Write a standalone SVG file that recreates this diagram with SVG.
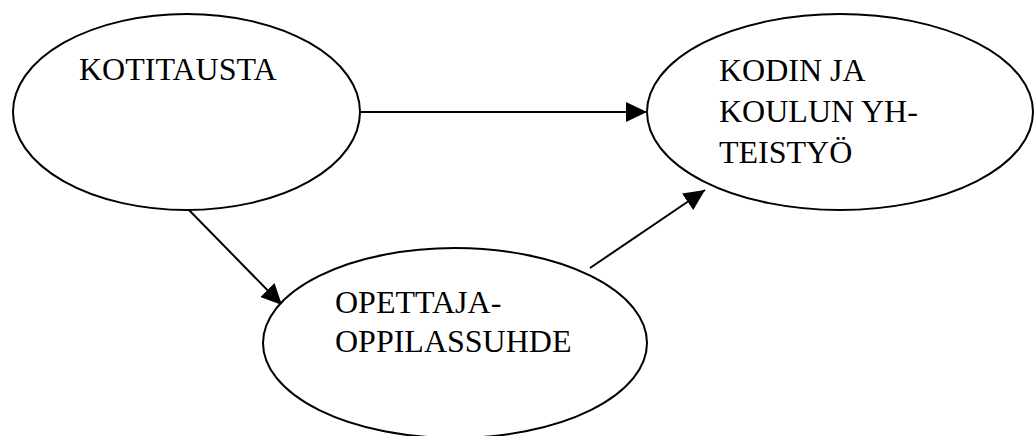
<svg xmlns="http://www.w3.org/2000/svg" width="1035" height="436" viewBox="0 0 1035 436">
<style>
.node{fill:#fff;stroke:#000;stroke-width:2}
.lbl{font-size:32px;fill:#000}
.edge{stroke:#000;stroke-width:2;fill:none}
</style>
<defs>
<marker id="ah2" viewBox="0 0 21 20" refX="21" refY="10" markerWidth="21" markerHeight="20" orient="auto" markerUnits="userSpaceOnUse">
<path d="M0,0 L21,10 L0,20 Z" fill="#000"/>
</marker>
</defs>
<rect width="1035" height="436" fill="#fff"/>
<g id="connectors">
<line class="edge" x1="360" y1="112" x2="647" y2="112" marker-end="url(#ah2)"/>
<line class="edge" x1="188" y1="209" x2="282" y2="305" marker-end="url(#ah2)"/>
<line class="edge" x1="590" y1="268" x2="705" y2="190" marker-end="url(#ah2)"/>
</g>
<g font-family="Liberation Serif, Times New Roman, DejaVu Serif, serif">
<g id="kotitausta">
<ellipse class="node" cx="186.5" cy="112" rx="173.5" ry="98"/>
<text class="lbl" x="79" y="80">KOTITAUSTA</text>
</g>
<g id="yhteistyo">
<ellipse class="node" cx="840" cy="112" rx="193" ry="98"/>
<text class="lbl" x="719" y="81">KODIN JA</text>
<text class="lbl" x="719" y="122">KOULUN YH-</text>
<text class="lbl" x="719" y="163">TEISTYÖ</text>
</g>
<g id="opettaja">
<ellipse class="node" cx="455" cy="343" rx="192" ry="95"/>
<text class="lbl" x="335" y="313">OPETTAJA-</text>
<text class="lbl" x="335" y="352">OPPILASSUHDE</text>
</g>
</g>
</svg>
